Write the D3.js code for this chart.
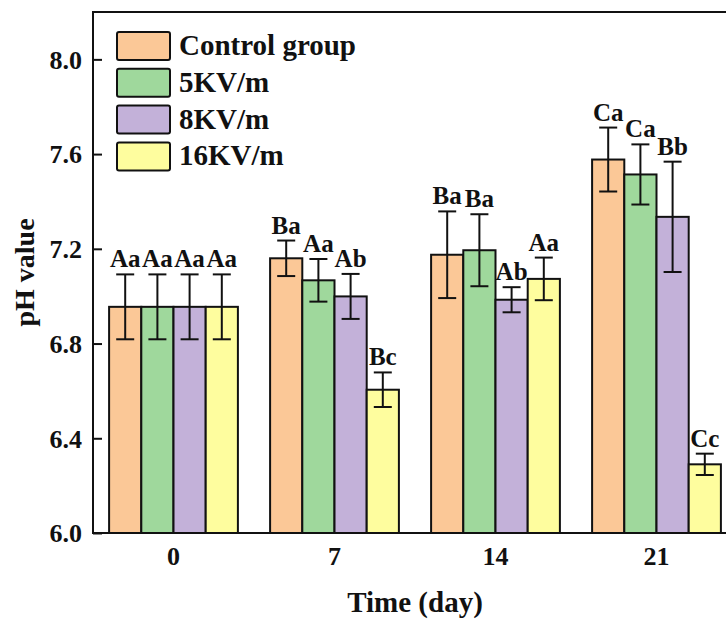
<!DOCTYPE html>
<html>
<head>
<meta charset="utf-8">
<script src="https://cdn.jsdelivr.net/npm/d3@7"></script>
<style>
  body { margin: 0; background: #fff; }
  svg text { font-family: "Liberation Serif", "Times New Roman", serif; font-weight: bold; fill: #111; }
</style>
</head>
<body>
<svg id="chart" width="726" height="619"></svg>
<script>
// data
var days = ["0", "7", "14", "21"];
var groups = ["Control group", "5KV/m", "8KV/m", "16KV/m"];
var colors = ["#FBC897", "#9FD89C", "#C3B1D9", "#FEFD9E"];

// pH per group, one entry per day
var control = [6.955, 7.160, 7.175, 7.577];
var kv5     = [6.955, 7.067, 7.194, 7.514];
var kv8     = [6.955, 6.999, 6.985, 7.335];
var kv16    = [6.955, 6.605, 7.073, 6.290];

var controlErr = [0.137, 0.075, 0.183, 0.135];
var kv5Err     = [0.137, 0.090, 0.152, 0.127];
var kv8Err     = [0.137, 0.095, 0.053, 0.233];
var kv16Err    = [0.137, 0.073, 0.090, 0.045];

var controlLab = ["Aa", "Ba", "Ba", "Ca"];
var kv5Lab     = ["Aa", "Aa", "Ba", "Ca"];
var kv8Lab     = ["Aa", "Ab", "Ab", "Bb"];
var kv16Lab    = ["Aa", "Bc", "Aa", "Cc"];

var yTicks = [6.0, 6.4, 6.8, 7.2, 7.6, 8.0];

var series = [
  {vals: control, err: controlErr, lab: controlLab},
  {vals: kv5, err: kv5Err, lab: kv5Lab},
  {vals: kv8, err: kv8Err, lab: kv8Lab},
  {vals: kv16, err: kv16Err, lab: kv16Lab}
];

var svg = d3.select("#chart");

// plot box (right side runs past the picture edge, as in the figure)
var pL = 93, pR = 737, pT = 12, pB = 533;

var x0 = d3.scaleBand().domain(days).range([pL, pR])
  .paddingInner(0.2).paddingOuter(0.1);
var x1 = d3.scaleBand().domain(d3.range(groups.length)).range([0, x0.bandwidth()]);
var y = d3.scaleLinear().domain([6.0, 8.2]).range([pB, pT]);

// bars
var rows = [];
days.forEach(function(d, i){
  series.forEach(function(s, k){
    rows.push({day: d, k: k, v: s.vals[i], e: s.err[i], lab: s.lab[i]});
  });
});

var g = svg.append("g");

g.selectAll("rect.bar").data(rows).enter().append("rect")
  .attr("class", "bar")
  .attr("x", function(r){ return x0(r.day) + x1(r.k); })
  .attr("y", function(r){ return y(r.v); })
  .attr("width", x1.bandwidth())
  .attr("height", function(r){ return y(6.0) - y(r.v); })
  .style("fill", function(r){ return colors[r.k]; })
  .style("stroke", "#111")
  .style("stroke-width", 2);

// error bars + letters
var cap = 9;
rows.forEach(function(r){
  var cx = x0(r.day) + x1(r.k) + x1.bandwidth() / 2;
  var y1 = y(r.v + r.e), y2 = y(r.v - r.e);
  g.append("line").attr("x1", cx).attr("x2", cx).attr("y1", y1).attr("y2", y2)
    .style("stroke", "#111").style("stroke-width", 2);
  g.append("line").attr("x1", cx - cap).attr("x2", cx + cap).attr("y1", y1).attr("y2", y1)
    .style("stroke", "#111").style("stroke-width", 2);
  g.append("line").attr("x1", cx - cap).attr("x2", cx + cap).attr("y1", y2).attr("y2", y2)
    .style("stroke", "#111").style("stroke-width", 2);
  g.append("text").attr("x", cx).attr("y", y1 - 7)
    .attr("text-anchor", "middle").style("font-size", "25px")
    .text(r.lab);
});

// frame: top line
svg.append("line").attr("x1", pL).attr("x2", pR).attr("y1", pT).attr("y2", pT)
  .style("stroke", "#111").style("stroke-width", 2);

// y axis, ticks pointing inward
var yAxis = svg.append("g").attr("transform", "translate(" + pL + ",0)")
  .call(d3.axisRight(y).tickValues(yTicks).tickSize(9).tickFormat(d3.format(".1f")));
yAxis.select(".domain").remove();
yAxis.selectAll(".tick line").style("stroke", "#111").style("stroke-width", 2);
yAxis.selectAll(".tick text").attr("x", -11).attr("dy", "0.34em")
  .attr("text-anchor", "end").style("font-size", "26px");
yAxis.attr("font-family", null);
svg.append("line").attr("x1", pL).attr("x2", pL).attr("y1", pT - 1).attr("y2", pB + 1)
  .style("stroke", "#111").style("stroke-width", 2);

// x axis
var xAxis = svg.append("g").attr("transform", "translate(0," + pB + ")")
  .call(d3.axisBottom(x0).tickSize(0).tickPadding(14));
xAxis.select(".domain").remove();
xAxis.attr("font-family", null);
xAxis.selectAll(".tick text").attr("dy", "0.71em").style("font-size", "26px");
svg.append("line").attr("x1", pL - 1).attr("x2", pR).attr("y1", pB).attr("y2", pB)
  .style("stroke", "#111").style("stroke-width", 2);

// titles
svg.append("text").attr("x", (pL + pR) / 2).attr("y", 612)
  .attr("text-anchor", "middle").style("font-size", "29px").text("Time (day)");
svg.append("text").attr("transform", "translate(34," + ((pT + pB) / 2) + ") rotate(-90)")
  .attr("text-anchor", "middle").style("font-size", "28px").text("pH value");

// legend
var leg = svg.append("g").attr("transform", "translate(117,32)");
groups.forEach(function(name, k){
  var row = leg.append("g").attr("transform", "translate(0," + (k * 36.8) + ")");
  row.append("rect").attr("width", 53).attr("height", 28).attr("rx", 2)
    .style("fill", colors[k]).style("stroke", "#111").style("stroke-width", 2);
  row.append("text").attr("x", 62).attr("y", 23).style("font-size", "29px").text(name);
});
</script>
</body>
</html>
